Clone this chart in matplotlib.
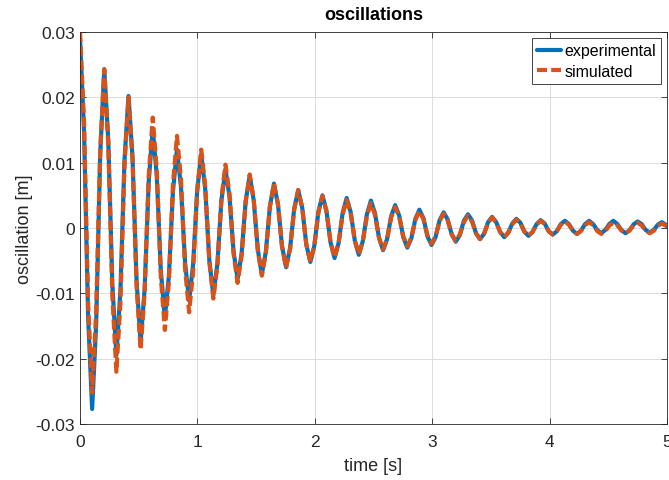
import numpy as np
import matplotlib.pyplot as plt

plt.rcParams['font.family'] = ['Liberation Sans', 'DejaVu Sans']

# ---------- Donnees (en mm) ----------
# echantillons tous les 1/6 de periode (periode ~0.2065 s)
sample_dt = 0.034417

exp_mm = [
    29.0, 14.8, -13.5,
    -27.7, -14.7, 11.3,
    24.3, 13.4, -8.6,
    -19.5, -9.6, 10.3,
    20.2, 10.8, -8.1,
    -17.5, -9.3, 7.0,
    15.2, 8.0, -6.5,
    -13.7, -7.3, 5.6,
    12.0, 6.2, -5.3,
    -11.1, -5.5, 5.7,
    11.3, 5.9, -4.9,
    -10.3, -5.5, 4.2,
    9.0, 4.8, -3.6,
    -7.8, -3.9, 4.1,
    8.0, 4.2, -3.3,
    -7.1, -3.6, 3.3,
    6.8, 3.6, -2.8,
    -6.0, -3.1, 2.9,
    5.8, 3.1, -2.5,
    -5.2, -2.7, 2.5,
    5.0, 2.6, -2.2,
    -4.6, -2.3, 2.3,
    4.6, 2.4, -1.9,
    -4.1, -2.0, 2.1,
    4.2, 2.3, -1.5,
    -3.4, -1.7, 1.8,
    3.5, 1.9, -1.4,
    -3.0, -1.6, 1.4,
    2.8, 1.5, -1.3,
    -2.6, -1.4, 1.2,
    2.4, 1.3, -1.0,
    -2.1, -1.1, 1.1,
    2.1, 1.2, -0.8,
    -1.7, -0.9, 0.9,
    1.7, 0.9, -0.6,
    -1.4, -0.7, 0.7,
    1.4, 0.8, -0.55,
    -1.2, -0.6, 0.6,
    1.2, 0.7, -0.5,
    -1.0, -0.5, 0.6,
    1.1, 0.6, -0.4,
    -0.9, -0.4, 0.6,
    1.1, 0.6, -0.3,
    -0.8, -0.3, 0.6,
    1.1, 0.6, -0.3,
    -0.8, -0.35, 0.55,
    1.0, 0.6, -0.3,
    -0.7, -0.3, 0.5,
    0.9, 0.5, -0.3,
    -0.7,
]

sim_mm = [
    30.0, 16.2, -11.4,
    -25.2, -12.8, 11.9,
    24.3, 12.7, -10.4,
    -22.0, -11.5, 9.5,
    20.0, 10.4, -9.0,
    -18.6, -9.7, 8.0,
    16.9, 8.8, -7.5,
    -15.6, -8.2, 6.7,
    14.1, 7.4, -6.2,
    -12.9, -6.7, 5.8,
    12.0, 6.3, -5.1,
    -10.8, -5.7, 4.6,
    9.7, 5.2, -3.9,
    -8.4, -4.25, 4.05,
    8.2, 4.3, -3.4,
    -7.3, -3.8, 3.3,
    6.8, 3.6, -2.9,
    -6.1, -3.1, 2.8,
    5.8, 3.1, -2.5,
    -5.2, -2.7, 2.4,
    4.9, 2.55, -2.15,
    -4.5, -2.3, 2.1,
    4.3, 2.2, -1.9,
    -4.0, -2.05, 1.85,
    3.8, 2.0, -1.5,
    -3.3, -1.7, 1.6,
    3.2, 1.7, -1.3,
    -2.8, -1.45, 1.25,
    2.6, 1.35, -1.15,
    -2.4, -1.25, 1.05,
    2.2, 1.15, -0.95,
    -2.0, -1.0, 0.9,
    1.9, 1.0, -0.8,
    -1.7, -0.9, 0.8,
    1.6, 0.85, -0.65,
    -1.4, -0.7, 0.6,
    1.3, 0.7, -0.6,
    -1.2, -0.6, 0.5,
    1.1, 0.6, -0.5,
    -1.0, -0.5, 0.5,
    1.0, 0.5, -0.4,
    -0.9, -0.45, 0.45,
    0.9, 0.45, -0.45,
    -0.9, -0.475, 0.375,
    0.8, 0.4, -0.4,
    -0.8, -0.4, 0.4,
    0.8, 0.4, -0.4,
    -0.8, -0.425, 0.325,
    0.7, 0.35, -0.35,
    -0.7,
]

y_ticks = [-0.03, -0.02, -0.01, 0, 0.01, 0.02, 0.03]
y_ticklabels = ['-0.03', '-0.02', '-0.01', '0', '0.01', '0.02', '0.03']
x_ticks = [0, 1, 2, 3, 4, 5]

t_exp = np.arange(len(exp_mm)) * sample_dt
t_sim = np.arange(len(sim_mm)) * sample_dt
y_exp = np.array(exp_mm) / 1000
y_sim = np.array(sim_mm) / 1000

# ---------- Figure ----------
fig = plt.figure(figsize=(6.69, 4.81), dpi=100)
ax = fig.add_axes([0.1196, 0.1164, 0.8774, 0.815])

ax.plot(t_exp, y_exp, color='#0072BD', lw=3.0, label='experimental',
        solid_joinstyle='round', solid_capstyle='round')
ax.plot(t_sim, y_sim, color='#D95319', lw=3.0, linestyle=(0, (2.4, 1.0)),
        label='simulated', dash_joinstyle='round')

ax.set_xlim(0, 5)
ax.set_ylim(-0.03, 0.03)
ax.set_xticks(x_ticks)
ax.set_xticklabels([str(v) for v in x_ticks])
ax.set_yticks(y_ticks)
ax.set_yticklabels(y_ticklabels)

ax.grid(True, color='#dcdcdc', lw=0.7)
ax.set_axisbelow(True)
ax.tick_params(direction='in', top=True, right=True, labelsize=12.5,
               colors='#262626', length=4, width=0.6)
ax.tick_params(axis='x', pad=7)
for sp in ax.spines.values():
    sp.set_color('#262626')
    sp.set_linewidth(0.6)

ax.set_xlabel('time [s]', fontsize=13, color='#262626', labelpad=6)
ax.set_ylabel('oscillation [m]', fontsize=13, color='#262626', labelpad=2)
ax.set_title('oscillations', fontsize=13, fontweight='bold', pad=9)

leg = ax.legend(loc='upper right', fontsize=11.5, handlelength=1.5,
                handletextpad=0.2, borderpad=0.3, labelspacing=0.35,
                borderaxespad=0.4, fancybox=False, framealpha=1)
leg.get_frame().set_edgecolor('#262626')
leg.get_frame().set_linewidth(0.6)

fig.savefig('out.png', dpi=100)
